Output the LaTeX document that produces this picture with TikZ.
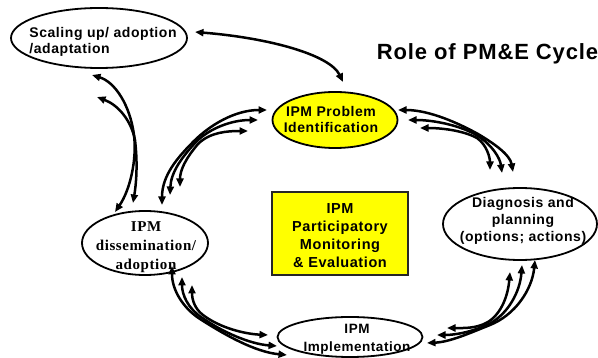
\documentclass[tikz,border=0pt]{standalone}
\usepackage{fontspec}
\setmainfont{Liberation Serif}
\setsansfont{Liberation Sans}
\newfontfamily\sansls{Liberation Sans}[LetterSpace=4]
\newfontfamily\serifls{Liberation Serif}[LetterSpace=4]
\usetikzlibrary{shapes.geometric,arrows.meta}
\definecolor{pmyellow}{RGB}{255,255,0}
\begin{document}
\begin{tikzpicture}[x=1pt,y=-1pt,
  ell/.style={draw, ellipse, line width=1.8pt, inner sep=0pt},
  lbl/.style={font=\sansls\bfseries\fontsize{14}{16}\selectfont, align=center, inner sep=0pt},
  conn/.style={line width=2.5pt, <->},
  >={Triangle[length=8.5pt,width=7pt]}
]
\useasboundingbox (0,0) rectangle (598,358);

% shapes
\node[ell, minimum width=176pt, minimum height=60pt] (sc) at (99,38) {};
\node[ell, fill=pmyellow, minimum width=125pt, minimum height=56pt] (pi) at (335,120) {};
\node[ell, minimum width=154pt, minimum height=72pt] (dg) at (520,224) {};
\node[ell, minimum width=145pt, minimum height=40pt] (im) at (350,337) {};
\node[ell, minimum width=126pt, minimum height=64pt] (dm) at (145,243) {};
\node[draw=black!85, line width=2.8pt, fill=pmyellow, minimum width=136pt, minimum height=83pt, inner sep=0pt] (pme) at (340,233.5) {};

% texts
\node[lbl, align=left] (sct) at (103,42) {Scaling up/ adoption\\/adaptation};
\node[lbl] (pit) at (331,119) {IPM Problem\\Identification};
\node[lbl, font=\sansls\bfseries\fontsize{14}{17}\selectfont] (dgt) at (523,221) {Diagnosis and\\planning\\(options; actions)};
\node[lbl, font=\sansls\bfseries\fontsize{13.5}{18}\selectfont] (imt) at (357,339) {IPM\\Implementation};
\node[lbl, font=\serifls\bfseries\fontsize{15}{19}\selectfont] (dmt) at (146,247) {IPM\\dissemination/\\adoption};
\node[lbl, font=\sansls\bfseries\fontsize{14.5}{18}\selectfont] (pmet) at (340,236) {IPM\\Participatory\\Monitoring\\\& Evaluation};
\node[font=\sansls\bfseries\fontsize{22}{24}\selectfont, inner sep=0pt, anchor=base] (title) at (487.5,60) {Role of PM\&E Cycle};

% connector end points
\coordinate (a1) at (195,32);  \coordinate (a2) at (343,82);
\coordinate (b1) at (92,75);   \coordinate (b2) at (115,212);
\coordinate (b3) at (97,97);   \coordinate (b4) at (133,203);
\coordinate (c1) at (162,205); \coordinate (c2) at (267,110);
\coordinate (c3) at (170,195); \coordinate (c4) at (258,120);
\coordinate (c5) at (180,187); \coordinate (c6) at (248,131);
\coordinate (d1) at (398,110); \coordinate (d2) at (513,172);
\coordinate (d3) at (408,120); \coordinate (d4) at (502,173);
\coordinate (d5) at (420,128); \coordinate (d6) at (490,170);
\coordinate (e1) at (535,260); \coordinate (e2) at (427,343);
\coordinate (e3) at (522,265); \coordinate (e4) at (437,335);
\coordinate (e5) at (510,272); \coordinate (e6) at (447,328);
\coordinate (f1) at (172,266); \coordinate (f2) at (287,355);
\coordinate (f3) at (182,277); \coordinate (f4) at (277,346);
\coordinate (f5) at (192,285); \coordinate (f6) at (268,335);

% connectors
\draw[conn] (a1) .. controls (270,38) and (330,55) .. (a2);

\draw[conn] (b1) .. controls (115,82) and (130,105) .. (134,135) .. controls (137,160) and (130,190) .. (b2);
\draw[conn] (b3) .. controls (118,105) and (131,120) .. (135,140) .. controls (138,165) and (136,185) .. (b4);

\draw[conn] (c1) .. controls (162,175) and (178,157) .. (194,141) .. controls (210,125) and (235,110) .. (c2);
\draw[conn] (c3) .. controls (171,172) and (182,157) .. (196,142) .. controls (210,128) and (232,120) .. (c4);
\draw[conn] (c5) .. controls (180,170) and (186,158) .. (198,144) .. controls (210,132) and (228,131) .. (c6);

\draw[conn] (d1) .. controls (430,110) and (460,124) .. (478,134) .. controls (495,144) and (510,155) .. (d2);
\draw[conn] (d3) .. controls (435,120) and (462,126) .. (478,136) .. controls (492,145) and (500,158) .. (d4);
\draw[conn] (d5) .. controls (440,128) and (462,130) .. (477,138) .. controls (487,145) and (490,158) .. (d6);

\draw[conn] (e1) .. controls (532,290) and (515,315) .. (490,325) .. controls (470,333) and (450,342) .. (e2);
\draw[conn] (e3) .. controls (520,292) and (508,314) .. (489,324) .. controls (472,332) and (455,335) .. (e4);
\draw[conn] (e5) .. controls (508,295) and (502,313) .. (488,322) .. controls (476,329) and (462,328) .. (e6);

\draw[conn] (f1) .. controls (172,290) and (183,308) .. (200,319) .. controls (225,335) and (255,352) .. (f2);
\draw[conn] (f3) .. controls (182,295) and (188,308) .. (201,317) .. controls (222,332) and (250,344) .. (f4);
\draw[conn] (f5) .. controls (192,300) and (195,309) .. (203,315) .. controls (220,328) and (245,334) .. (f6);
\end{tikzpicture}
\end{document}
